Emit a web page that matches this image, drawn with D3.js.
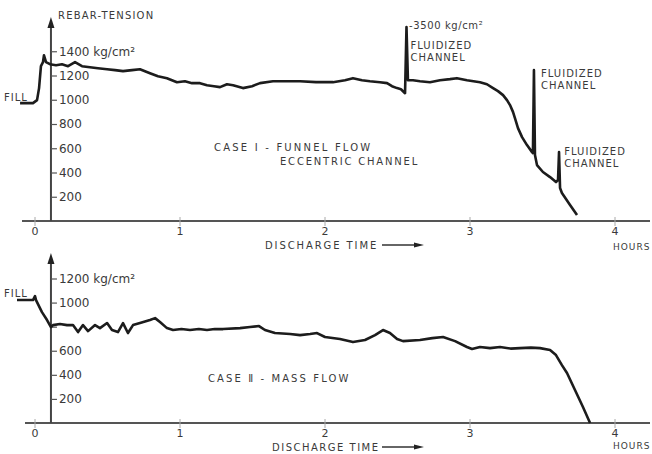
<!DOCTYPE html>
<html>
<head>
<meta charset="utf-8">
<script src="https://cdn.jsdelivr.net/npm/d3@7"></script>
<style>
  body { margin: 0; background: #fff; }
  text { font-family: "DejaVu Sans", sans-serif; fill: #3a3a3a; }
</style>
</head>
<body>
<div class="vis"></div>
<script>
// hours after start of discharge, rebar tension in kg/cm2
const caseOne = [
  [-0.103, 972], [-0.014, 972], [0.014, 997], [0.028, 1096], [0.041, 1277], [0.055, 1310],
  [0.062, 1367], [0.076, 1310], [0.103, 1293], [0.145, 1285], [0.186, 1293], [0.228, 1277],
  [0.276, 1310], [0.324, 1277], [0.379, 1268], [0.434, 1260], [0.497, 1252], [0.552, 1244],
  [0.607, 1236], [0.669, 1244], [0.724, 1252], [0.793, 1219], [0.848, 1194], [0.910, 1178],
  [0.979, 1145], [1.034, 1153], [1.083, 1137], [1.138, 1137], [1.186, 1120], [1.234, 1112],
  [1.276, 1104], [1.324, 1128], [1.366, 1120], [1.434, 1096], [1.497, 1112], [1.552, 1137],
  [1.641, 1153], [1.738, 1153], [1.828, 1153], [1.938, 1145], [2.055, 1145], [2.138, 1161],
  [2.193, 1178], [2.255, 1161], [2.310, 1153], [2.379, 1145], [2.428, 1137], [2.462, 1112],
  [2.497, 1096], [2.524, 1087], [2.552, 1054], [2.562, 3500], [2.572, 1161], [2.607, 1161],
  [2.655, 1153], [2.724, 1145], [2.793, 1161], [2.862, 1170], [2.910, 1178], [2.979, 1161],
  [3.069, 1145], [3.117, 1128], [3.159, 1096], [3.193, 1071], [3.228, 1038], [3.255, 997],
  [3.276, 956], [3.297, 898], [3.310, 848], [3.331, 766], [3.359, 692], [3.393, 626],
  [3.428, 568], [3.434, 560], [3.441, 1244], [3.448, 544], [3.462, 461], [3.503, 404],
  [3.552, 362], [3.593, 321], [3.607, 338], [3.614, 568], [3.621, 272], [3.634, 231],
  [3.690, 132], [3.738, 49]
];

const caseTwo = [
  [-0.124, 1021], [-0.014, 1021], [0.000, 1054], [0.007, 1021], [0.048, 921], [0.083, 855],
  [0.110, 797], [0.124, 813], [0.172, 822], [0.221, 813], [0.262, 813], [0.297, 755],
  [0.331, 813], [0.366, 763], [0.414, 813], [0.448, 788], [0.497, 830], [0.531, 772],
  [0.572, 755], [0.607, 830], [0.641, 747], [0.676, 813], [0.724, 830], [0.793, 855],
  [0.828, 871], [0.862, 838], [0.910, 788], [0.952, 772], [1.010, 780], [1.069, 772],
  [1.130, 780], [1.186, 772], [1.240, 780], [1.297, 780], [1.414, 788], [1.483, 797],
  [1.545, 805], [1.586, 772], [1.655, 747], [1.759, 739], [1.828, 730], [1.897, 739],
  [1.945, 747], [2.000, 714], [2.103, 697], [2.193, 672], [2.276, 689], [2.345, 730],
  [2.400, 772], [2.448, 747], [2.497, 697], [2.538, 680], [2.655, 689], [2.740, 705],
  [2.814, 714], [2.897, 680], [2.979, 631], [3.014, 614], [3.069, 631], [3.138, 622],
  [3.207, 631], [3.280, 618], [3.345, 622], [3.420, 626], [3.483, 622], [3.552, 606],
  [3.593, 564], [3.634, 481], [3.669, 415], [3.724, 274], [3.779, 133], [3.828, 0]
];

const hourTicks = [0, 1, 2, 3, 4];
const caseOneTicks = [200, 400, 600, 800, 1000, 1200, 1400];
const caseTwoTicks = [200, 400, 600, 800, 1000, 1200];
// the 800 label of case II sits under the trace in the original
const caseTwoHidden = [800];

const width = 652, height = 454;
const svg = d3.select('.vis').append('svg')
  .attr('width', width).attr('height', height);

const x = d3.scaleLinear().domain([0, 4]).range([35, 615]);
const yAxisAt = x(0.11);

const panels = [
  { data: caseOne, ticks: caseOneTicks, hidden: [], max: 1600, base: 221, top: 27, arrowTip: 17, axisLeft: 22, hoursY: 29 },
  { data: caseTwo, ticks: caseTwoTicks, hidden: caseTwoHidden, max: 1200, base: 423, top: 278.5, arrowTip: 253, axisLeft: 25, hoursY: 26 }
];

panels.forEach((p, k) => {
  const g = svg.append('g');
  const y = d3.scaleLinear().domain([0, p.max]).range([p.base, p.top]).clamp(true);
  p.y = y;

  // baseline
  g.append('line')
    .attr('x1', p.axisLeft).attr('x2', 650)
    .attr('y1', p.base).attr('y2', p.base)
    .attr('stroke', '#555').attr('stroke-width', 2);

  // hour ticks
  g.selectAll('.ht').data(hourTicks).enter().append('line')
    .attr('x1', d => x(d)).attr('x2', d => x(d))
    .attr('y1', p.base - 4).attr('y2', p.base + 5)
    .attr('stroke', '#aaa').attr('stroke-width', 1);
  g.selectAll('.hl').data(hourTicks).enter().append('text')
    .attr('x', d => x(d)).attr('y', p.base + 14)
    .attr('text-anchor', 'middle')
    .style('font-size', '11px')
    .text(d => d);

  // vertical axis with arrow
  g.append('line')
    .attr('x1', yAxisAt).attr('x2', yAxisAt)
    .attr('y1', p.base).attr('y2', p.arrowTip + 6)
    .attr('stroke', '#444').attr('stroke-width', 2);
  g.append('path')
    .attr('d', `M${yAxisAt},${p.arrowTip} L${yAxisAt - 3.5},${p.arrowTip + 11} L${yAxisAt + 3.5},${p.arrowTip + 11} Z`)
    .attr('fill', '#222');

  const axis = d3.axisRight(y).tickValues(p.ticks).tickSize(6).tickPadding(2)
    .tickFormat(d => p.hidden.includes(d) ? '' :
      d === p.ticks[p.ticks.length - 1] ? d + ' kg/cm²' : d);
  const ag = g.append('g').attr('transform', `translate(${yAxisAt},0)`).call(axis);
  ag.select('.domain').remove();
  ag.selectAll('line').attr('stroke', '#555').attr('stroke-width', 1.2);
  ag.selectAll('text').attr('fill', '#3a3a3a')
    .style('font-size', '12px').style('font-family', '"DejaVu Sans", sans-serif');

  // trace
  const line = d3.line().x(d => x(d[0])).y(d => y(d[1]));
  g.append('path')
    .datum(p.data)
    .attr('d', line)
    .attr('fill', 'none')
    .attr('stroke', '#1c1c1c')
    .attr('stroke-width', 2.6)
    .attr('stroke-linejoin', 'round');

  // x title
  g.append('text')
    .attr('x', k === 0 ? 265 : 272).attr('y', p.base + 28)
    .style('font-size', '10px').style('letter-spacing', k === 0 ? '1.9px' : '1.5px')
    .text('DISCHARGE TIME');
  g.append('line')
    .attr('x1', 382).attr('x2', 416).attr('y1', p.base + 24).attr('y2', p.base + 24)
    .attr('stroke', '#333').attr('stroke-width', 1.3);
  g.append('path')
    .attr('d', `M424,${p.base + 24} L414,${p.base + 21.5} L414,${p.base + 26.5} Z`)
    .attr('fill', '#222');
  g.append('text')
    .attr('x', 613).attr('y', p.base + p.hoursY)
    .style('font-size', '9px').style('letter-spacing', '1px')
    .text('HOURS');
});

const small = (t, xx, yy, ls) => svg.append('text')
  .attr('x', xx).attr('y', yy)
  .style('font-size', '10px').style('letter-spacing', (ls || 1) + 'px')
  .text(t);

small('REBAR-TENSION', 58, 19, 1.2);
small('FILL', 4, 101, 1);
small('FILL', 4, 297, 1);

// annotations for case one
small('-3500 kg/cm²', x(2.58), 29, 0.6);
small('FLUIDIZED', x(2.59), 49);
small('CHANNEL', x(2.59), 61);
small('FLUIDIZED', x(3.49), 77);
small('CHANNEL', x(3.49), 89);
small('FLUIDIZED', x(3.65), 155);
small('CHANNEL', x(3.65), 167);

small('CASE Ⅰ - FUNNEL FLOW', 214, 151, 2.2);
small('ECCENTRIC CHANNEL', 280, 165, 1.8);
small('CASE Ⅱ - MASS FLOW', 208, 382, 2.1);
</script>
</body>
</html>
